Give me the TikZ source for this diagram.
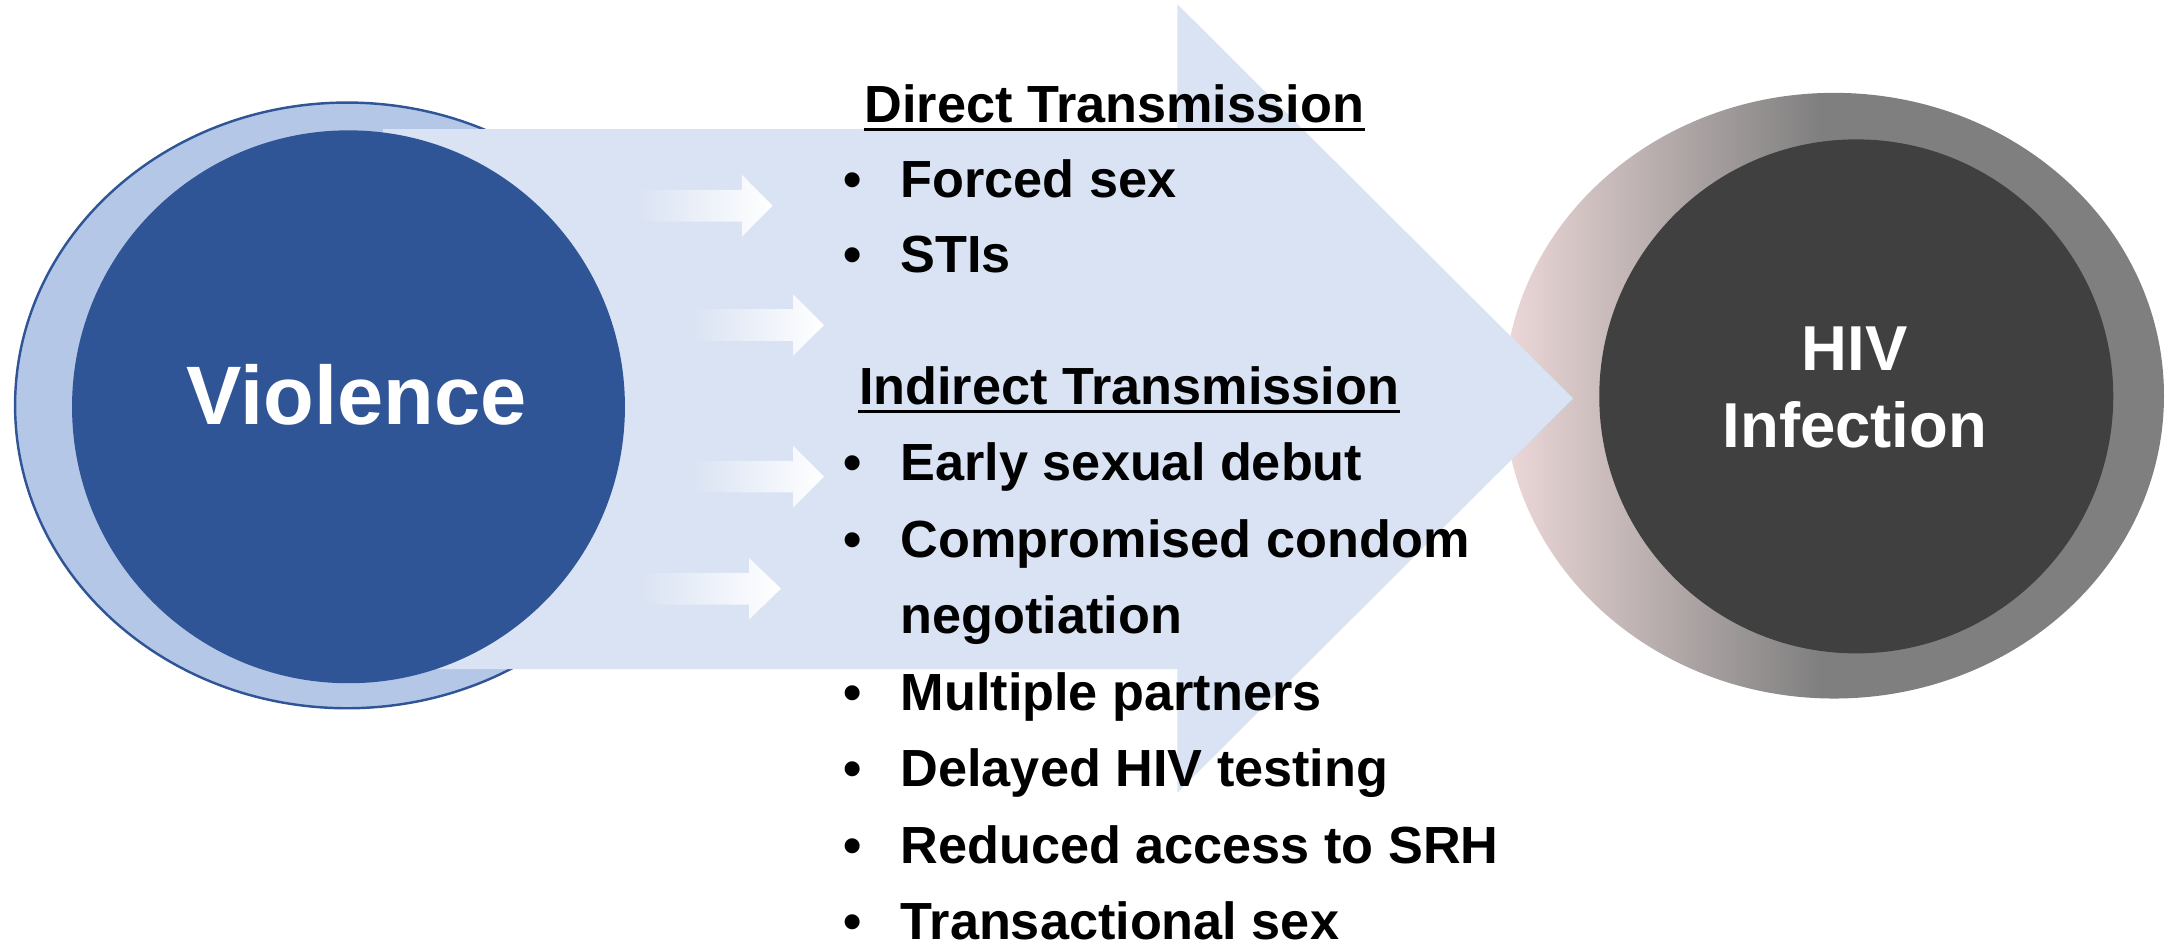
\documentclass[tikz,border=0pt]{standalone}
\usepackage{fontspec}
\setmainfont{Liberation Sans}
\usetikzlibrary{calc}
\definecolor{vblue}{HTML}{2F5597}
\definecolor{vlight}{HTML}{B4C7E7}
\definecolor{abg}{HTML}{DAE3F3}
\definecolor{hdark}{HTML}{404040}
\definecolor{hgray}{HTML}{7F7F7F}
\definecolor{hpink}{HTML}{EDD8D8}
\pgfdeclarehorizontalshading{ringshade}{100bp}{color(0bp)=(hpink); color(25bp)=(hpink); color(49bp)=(hgray); color(100bp)=(hgray)}
\def\lsp{55.1}
\def\shaft{11.4}
\def\head{22.2}

\begin{document}
\begin{tikzpicture}[x=0.01cm,y=-0.01cm]
    \tikzset{%
      item/.style={anchor=base west, inner sep=0pt, font=\fontsize{10.7pt}{12pt}\selectfont\bfseries},
      bul/.style={anchor=base, inner sep=0pt, font=\fontsize{10.7pt}{12pt}\selectfont\bfseries},
      smallarrow/.style={left color=abg, right color=white}}
    \useasboundingbox (0,0) rectangle (1568,682);

    % rings behind
    \shade[shading=ringshade] (1321,285) ellipse [x radius=2.375cm, y radius=2.18cm];
    \fill[vlight, draw=vblue, line width=0.5pt] (250,292) ellipse [x radius=2.39cm, y radius=2.18cm];

    % big arrow
    \fill[abg] (276,93) -- (848,93) -- (848,3) -- (1133,287) -- (848,571) -- (848,482) -- (276,482) -- cycle;

    \fill[vblue] (251,293) circle (1.99cm);
    \fill[hdark] (1337,285.5) circle (1.85cm);

    \foreach \xs/\xb/\xt/\yc in {458.6/534.4/556.5/148.2, 498.2/571.2/593.5/234.1, 498.2/571.2/593.5/343.3, 461/539.5/562.5/424}
      \shade[smallarrow] (\xs,{\yc-\shaft}) -- (\xb,{\yc-\shaft}) -- (\xb,{\yc-\head}) -- (\xt,\yc) -- (\xb,{\yc+\head}) -- (\xb,{\yc+\shaft}) -- (\xs,{\yc+\shaft}) -- cycle;

    \node[anchor=base, inner sep=0pt, text=white, font=\fontsize{17pt}{20pt}\selectfont\bfseries] (viol) at (257,306) {Violence};
    \node[anchor=base, inner sep=0pt, text=white, align=center, font=\fontsize{13pt}{15.6pt}\selectfont\bfseries] (hiv) at (1336,322) {HIV\\Infection};

    \node[item] (dt) at (622,88) {Direct Transmission};
    \draw[line width=0.6pt] ([yshift=-1.5pt]dt.base west) -- ([yshift=-1.5pt]dt.base east);
    \foreach \t [count=\i] in {Forced sex, STIs}{
      \node[bul] (db\i) at (614,{88+54*\i}) {\textbullet};
      \node[item] (d\i) at (648,{88+54*\i}) {\t};
    }

    \node[item] (it) at (618,291) {Indirect Transmission};
    \draw[line width=0.6pt] ([yshift=-1.5pt]it.base west) -- ([yshift=-1.5pt]it.base east);
    \foreach \t/\b [count=\i] in {Early sexual debut/1, Compromised condom/1, negotiation/0, Multiple partners/1, Delayed HIV testing/1, Reduced access to SRH/1, Transactional sex/1}{
      \node[item] (ind\i) at (648,{291+\lsp*\i}) {\t};
      \ifnum\b=1 \node[bul] (ib\i) at (614,{291+\lsp*\i}) {\textbullet};\fi
    }
\end{tikzpicture}
\end{document}
